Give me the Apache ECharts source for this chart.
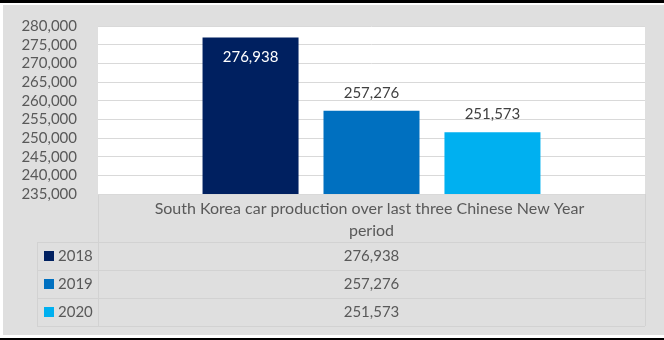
<!DOCTYPE html>
<html><head><meta charset="utf-8">
<script src="https://cdn.jsdelivr.net/npm/echarts@6/dist/echarts.min.js"></script>
<style>
html,body{margin:0;padding:0;background:#fff;}
#frame{position:relative;width:664px;height:340px;overflow:hidden;}
#topline{position:absolute;left:0;top:0;width:664px;height:3px;background:#000;}
#botline{position:absolute;left:0;top:338px;width:664px;height:2px;background:#000;}
#panel{position:absolute;left:3px;top:5px;width:661px;height:330px;background:#dfdfdf;}
#chart{position:absolute;left:0;top:0;width:664px;height:340px;}
</style></head>
<body><div id="frame"><div id="topline"></div><div id="panel"></div><div id="botline"></div><div id="chart"></div></div>
<script>
// ---- data ----
const categories = ['South Korea car production over last three Chinese New Year period'];
const seriesNames = ['2018', '2019', '2020'];
const values2018 = [276938];
const values2019 = [257276];
const values2020 = [251573];
const yMin = 235000, yMax = 280000, yStep = 5000;

// ---- style ----
const colors = ['#002060', '#0070C0', '#00B0F0'];
const FONT = 'Lato';
const TXT = '#595959';
const LINE = '#d2d2d2';

const allValues = [values2018, values2019, values2020];
const fmt = v => Number(v).toLocaleString('en-US');

const chart = echarts.init(document.getElementById('chart'), null, {renderer: 'canvas'});

const series = seriesNames.map((name, i) => ({
  name: name,
  type: 'bar',
  data: allValues[i],
  barWidth: 96,
  barGap: '26%',
  itemStyle: {color: colors[i]},
  label: i === 0 ? {
    show: true, position: 'insideTop', distance: 12, color: '#ffffff',
    fontFamily: FONT, fontSize: 15, formatter: p => fmt(p.value)
  } : {
    show: true, position: 'top', distance: 10, color: '#404040',
    fontFamily: FONT, fontSize: 15, formatter: p => fmt(p.value)
  }
}));

// ---- data table (drawn as graphic) ----
const tblLeft = 37, plotLeft = 98, plotRight = 645, tblTop = 194, headBottom = 242, rowH = 28;
const g = [];
const hline = (x1, x2, y) => g.push({type: 'line', shape: {x1, y1: y + 0.5, x2, y2: y + 0.5}, style: {stroke: LINE, lineWidth: 1}, silent: true});
const vline = (x, y1, y2) => g.push({type: 'line', shape: {x1: x + 0.5, y1, x2: x + 0.5, y2}, style: {stroke: LINE, lineWidth: 1}, silent: true});
const tblBottom = headBottom + rowH * seriesNames.length;
hline(plotLeft, plotRight, tblTop);
for (let r = 0; r <= seriesNames.length; r++) hline(tblLeft, plotRight, headBottom + r * rowH);
vline(plotLeft, tblTop, tblBottom);
vline(plotRight, tblTop, tblBottom);
vline(tblLeft, headBottom, tblBottom);
seriesNames.forEach((name, i) => {
  const cy = headBottom + i * rowH + rowH / 2;
  g.push({type: 'rect', shape: {x: 44, y: cy - 5, width: 10, height: 10}, style: {fill: colors[i]}, silent: true});
  g.push({type: 'text', x: 58, y: cy, style: {text: name, fill: TXT, font: '15px ' + FONT, textAlign: 'left', textVerticalAlign: 'middle'}, silent: true});
  g.push({type: 'text', x: (plotLeft + plotRight) / 2, y: cy, style: {text: fmt(allValues[i][0]), fill: TXT, font: '15px ' + FONT, textAlign: 'center', textVerticalAlign: 'middle'}, silent: true});
});

chart.setOption({
  animation: false,
  backgroundColor: 'transparent',
  grid: {left: plotLeft, right: 664 - plotRight, top: 26, bottom: 146, show: true, backgroundColor: '#ffffff', borderWidth: 0},
  xAxis: {
    type: 'category', data: categories,
    axisLine: {show: false}, axisTick: {show: false},
    axisLabel: {
      interval: 0, color: TXT, fontFamily: FONT, fontSize: 16, lineHeight: 22, margin: 4,
      width: 455, overflow: 'break', align: 'center'
    }
  },
  yAxis: {
    type: 'value', min: yMin, max: yMax, interval: yStep,
    axisLine: {show: false}, axisTick: {show: false},
    splitLine: {lineStyle: {color: '#d9d9d9', width: 1}},
    axisLabel: {color: TXT, fontFamily: FONT, fontSize: 15, margin: 21, formatter: v => fmt(v)}
  },
  series: series,
  graphic: g
});
</script></body></html>
